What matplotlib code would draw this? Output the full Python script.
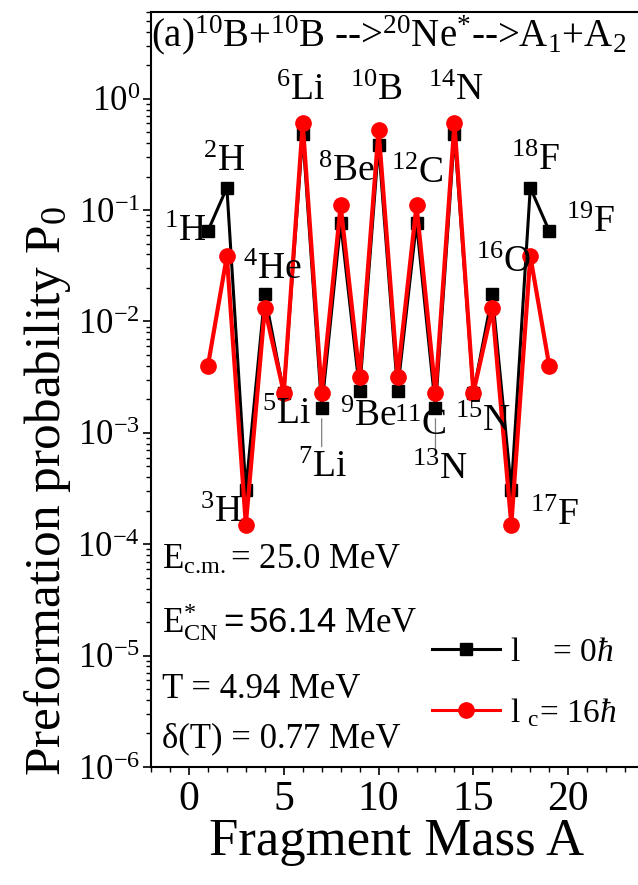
import numpy as np
import matplotlib
matplotlib.use('Agg')
import matplotlib.pyplot as plt

plt.rcParams['font.family'] = ['Liberation Serif', 'DejaVu Serif']
plt.rcParams['mathtext.fontset'] = 'custom'
plt.rcParams['mathtext.rm'] = 'Liberation Serif'
plt.rcParams['mathtext.it'] = 'Liberation Serif:italic'
plt.rcParams['mathtext.sf'] = 'Liberation Sans'
plt.rcParams['axes.unicode_minus'] = False

# fragment mass numbers
mass = np.arange(1, 20)

# preformation probability, l = 0 hbar
p0_l0 = [0.065, 0.159, 3.1e-4, 0.0175, 2.29e-3, 0.48, 1.67e-3, 0.077, 2.4e-3, 0.385,
         2.4e-3, 0.077, 1.67e-3, 0.48, 2.29e-3, 0.0175, 3.1e-4, 0.159, 0.065]
# preformation probability, l_c = 16 hbar
p0_lc = [4.0e-3, 0.0387, 1.5e-4, 0.0131, 2.3e-3, 0.60, 2.29e-3, 0.110, 3.18e-3, 0.525,
         3.18e-3, 0.110, 2.29e-3, 0.60, 2.3e-3, 0.0131, 1.5e-4, 0.0387, 4.0e-3]

# fragment names and where their labels go (data coords)
frag_names = [r'$^{1}$H', r'$^{2}$H', r'$^{3}$H', r'$^{4}$He', r'$^{5}$Li', r'$^{6}$Li',
              r'$^{7}$Li', r'$^{8}$Be', r'$^{9}$Be', r'$^{10}$B', r'$^{11}$C', r'$^{12}$C',
              r'$^{13}$N', r'$^{14}$N', r'$^{15}$N', r'$^{16}$O', r'$^{17}$F', r'$^{18}$F',
              r'$^{19}$F']
label_x = [-0.2, 1.85, 1.7, 4.4, 5.15, 5.9, 7.05, 8.3, 9.45, 9.9, 12.2, 12.05,
           13.25, 14.05, 15.5, 16.6, 19.3, 18.25, 21.2]
label_y = [0.064, 0.27, 1.9e-4, 0.029, 1.45e-3, 1.17, 4.9e-4, 0.22, 1.4e-3, 1.17, 1.15e-3, 0.21,
           4.7e-4, 1.17, 1.25e-3, 0.034, 1.8e-4, 0.28, 0.077]

fig = plt.figure(figsize=(6.38, 8.85), dpi=100)
ax = fig.add_axes([0.2367, 0.1333, 0.7633, 0.8531])

l1, = ax.plot(mass, p0_l0, color='black', lw=2.2, marker='s', ms=9, zorder=3)
l2, = ax.plot(mass, p0_lc, color='red', lw=3, marker='o', ms=11, zorder=4)

ax.set_yscale('log')
ax.set_ylim(1e-6, 6)
ax.set_xlim(-2, 23.68)
ax.set_xticks([0, 5, 10, 15, 20])
ax.set_xticks(np.arange(-2, 24), minor=True)

for s in ['left', 'bottom', 'top']:
    ax.spines[s].set_linewidth(1.5)
ax.spines['right'].set_visible(False)
ax.tick_params(axis='both', which='major', direction='out', length=6, width=1.2)
ax.tick_params(axis='both', which='minor', direction='out', length=3.5, width=1)
ax.tick_params(axis='y', which='major', labelsize=25, pad=2)
ax.tick_params(axis='x', which='major', labelsize=30, pad=4)

ax.set_xlabel('Fragment Mass A', fontsize=38)
ax.xaxis.set_label_coords(0.505, -0.067)
ax.set_ylabel('Preformation probability P$_{0}$', fontsize=37)
ax.yaxis.set_label_coords(-0.16, 0.365)

# fragment labels
for name, lx, ly in zip(frag_names, label_x, label_y):
    ax.text(lx, ly, name, fontsize=27, ha='center', va='center', zorder=5)

# thin leader lines for 7Li and 13N
for m, ytop in [(7, 4.9e-4), (13, 4.7e-4)]:
    ax.annotate('', xy=(m, p0_l0[m - 1] * 0.85), xytext=(m, ytop * 1.45),
                arrowprops=dict(arrowstyle='-', color='gray', lw=0.9))

# reaction title
ax.text(0.0, 0.955, r'(a)$^{10}$B+$^{10}$B -->$^{20}$Ne$^{*}$-->A$_{1}$+A$_{2}$',
        transform=ax.transAxes, fontsize=28, ha='left', va='baseline')

# conditions
ax.text(0.022, 0.263, r'E$_{\rm c.\!m.}$= 25.0 MeV', transform=ax.transAxes, fontsize=25, va='baseline')
ax.text(0.022, 0.178, r'E$^{*}_{\rm CN}$$\mathsf{= 56.14}$ MeV', transform=ax.transAxes, fontsize=25, va='baseline')
ax.text(0.022, 0.091, 'T = 4.94 MeV', transform=ax.transAxes, fontsize=25, va='baseline')
ax.text(0.022, 0.026, '\u03b4(T) = 0.77 MeV', transform=ax.transAxes, fontsize=25, va='baseline')

leg = ax.legend([l1, l2], [r'l    = 0$\mathit{ħ}$', r'l $_{\rm c}$= 16$\mathit{ħ}$'],
                loc='upper left', bbox_to_anchor=(0.577, 0.172), frameon=False,
                fontsize=24, handlelength=2.05, handletextpad=0.3, numpoints=1,
                borderpad=0, borderaxespad=0, labelspacing=0.85)
for h in leg.legend_handles:
    h.set_linewidth(2.2)

plt.savefig('out.png', dpi=100)
